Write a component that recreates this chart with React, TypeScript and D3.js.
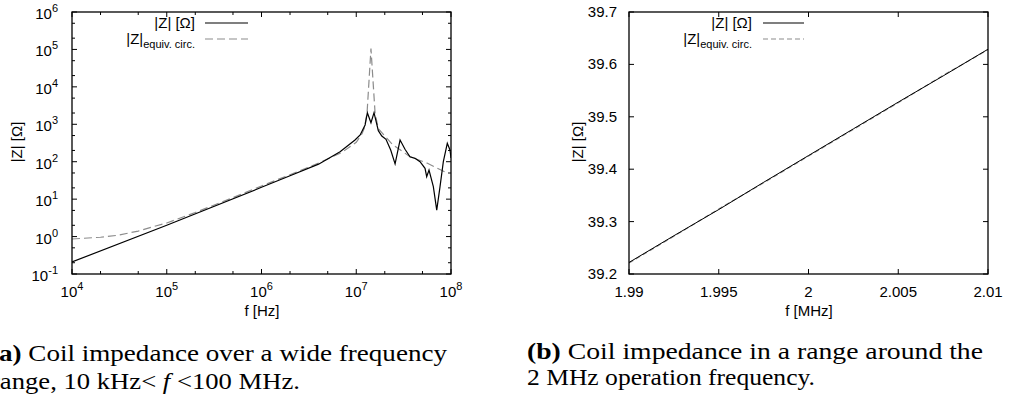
import React from "react";
import * as d3 from "d3";

// ---- Data (a): wide frequency range ----
const solidF = [1e4, 1e5, 1e6, 2e6, 4e6, 6.75e6, 9.7e6, 1.1e7, 1.24e7, 1.31e7, 1.43e7, 1.54e7, 1.71e7, 1.86e7, 2.06e7, 2.31e7, 2.57e7, 2.9e7, 3.27e7, 3.69e7, 4.17e7, 4.71e7, 5.32e7, 5.54e7, 5.86e7, 6.51e7, 7.07e7, 7.66e7, 8.3e7, 9.14e7, 9.76e7, 1e8];
const solidZ = [0.21, 2.0, 20.7, 42, 86, 185, 380, 517, 958, 2040, 1100, 2040, 675, 486, 397, 206, 87, 380, 215, 136, 123, 100, 66.7, 39.8, 60, 21.5, 5.1, 21.5, 100, 310, 206, 126];
const dashF = [1e4, 2e4, 3e4, 5e4, 7e4, 1e5, 2e5, 5e5, 1e6, 2e6, 4e6, 7e6, 1e7, 1.15e7, 1.22e7, 1.3e7, 1.43e7, 1.58e7, 1.71e7, 2.44e7, 3.7e7, 5.58e7, 8.65e7, 1e8];
const dashZ = [0.86, 0.96, 1.08, 1.4, 1.8, 2.3, 4.4, 11, 22.5, 45, 92, 175, 330, 560, 800, 2000, 105000, 2000, 760, 280, 136, 92, 53, 50];
const leftXTicks = [4, 5, 6, 7, 8];
const leftYTicks = [-1, 0, 1, 2, 3, 4, 5, 6];

// ---- Data (b): around 2 MHz ----
const rightF = [1.99, 1.9925, 1.995, 1.9975, 2.0, 2.0025, 2.005, 2.0075, 2.01];
const rightSolid = [39.222, 39.273, 39.323, 39.375, 39.426, 39.477, 39.528, 39.578, 39.629];
const rightDash = [39.221, 39.272, 39.324, 39.374, 39.425, 39.476, 39.527, 39.579, 39.628];
const rightXTicks = ["1.99", "1.995", "2", "2.005", "2.01"];
const rightYTicks = ["39.2", "39.3", "39.4", "39.5", "39.6", "39.7"];

const SANS = "'Liberation Sans', Arial, Helvetica, sans-serif";
const SERIF = "'Liberation Serif', 'Times New Roman', Times, serif";
const GRAY = "#8c8c8c";
const FS = 15;
const SUP = 11;

export default function App() {
  // Panel (a)
  const aL = 72, aR = 451, aT = 12, aB = 274;
  const xa = d3.scaleLog().domain([1e4, 1e8]).range([aL, aR]);
  const ya = d3.scaleLog().domain([1e-1, 1e6]).range([aB, aT]);
  const lineA = d3.line<[number, number]>().x((d) => xa(d[0])).y((d) => ya(d[1]));
  const solidPath = lineA(solidF.map((f, i) => [f, solidZ[i]]))!;
  const dashPath = lineA(dashF.map((f, i) => [f, dashZ[i]]))!;

  const minorX: number[] = [];
  for (let e = 4; e < 8; e++) [2, 5].forEach((m) => minorX.push(m * Math.pow(10, e)));
  const minorY: number[] = [];
  for (let e = -1; e < 6; e++) [2, 5].forEach((m) => minorY.push(m * Math.pow(10, e)));

  // Panel (b)
  const bL = 629, bR = 988, bT = 12, bB = 274;
  const xb = d3.scaleLinear().domain([1.99, 2.01]).range([bL, bR]);
  const yb = d3.scaleLinear().domain([39.2, 39.7]).range([bB, bT]);
  const lineB = d3.line<[number, number]>().x((d) => xb(d[0])).y((d) => yb(d[1]));
  const rSolidPath = lineB(rightF.map((f, i) => [f, rightSolid[i]]))!;
  const rDashPath = lineB(rightF.map((f, i) => [f, rightDash[i]]))!;

  const MJ = 5, MN = 3;

  return (
    <svg
      width={1009}
      height={403}
      style={{ position: "absolute", left: 0, top: 0, background: "#fff" }}
      fontFamily={SANS}
    >
      <defs>
        <clipPath id="clipA">
          <rect x={aL} y={aT} width={aR - aL} height={aB - aT} />
        </clipPath>
        <clipPath id="clipB">
          <rect x={bL} y={bT} width={bR - bL} height={bB - bT} />
        </clipPath>
      </defs>

      {/* ===== Panel (a) ===== */}
      <g>
        {leftXTicks.map((e) => {
          const x = xa(Math.pow(10, e));
          return (
            <g key={"xa" + e}>
              <line x1={x} x2={x} y1={aB} y2={aB - MJ} stroke="#000" />
              <line x1={x} x2={x} y1={aT} y2={aT + MJ} stroke="#000" />
              <text x={x} y={297} textAnchor="middle" fontSize={FS}>
                10<tspan dy={-7} fontSize={SUP}>{e}</tspan>
              </text>
            </g>
          );
        })}
        {minorX.map((v) => {
          const x = xa(v);
          return (
            <g key={"mxa" + v}>
              <line x1={x} x2={x} y1={aB} y2={aB - MN} stroke="#000" />
              <line x1={x} x2={x} y1={aT} y2={aT + MN} stroke="#000" />
            </g>
          );
        })}
        {leftYTicks.map((e) => {
          const y = ya(Math.pow(10, e));
          return (
            <g key={"ya" + e}>
              <line x1={aL} x2={aL + MJ} y1={y} y2={y} stroke="#000" />
              <line x1={aR} x2={aR - MJ} y1={y} y2={y} stroke="#000" />
              <text x={58} y={y + 7} textAnchor="end" fontSize={FS}>
                10<tspan dy={-7} fontSize={SUP}>{e}</tspan>
              </text>
            </g>
          );
        })}
        {minorY.map((v) => {
          const y = ya(v);
          return (
            <g key={"mya" + v}>
              <line x1={aL} x2={aL + MN} y1={y} y2={y} stroke="#000" />
              <line x1={aR} x2={aR - MN} y1={y} y2={y} stroke="#000" />
            </g>
          );
        })}

        <g clipPath="url(#clipA)">
          <path d={dashPath} fill="none" stroke={GRAY} strokeWidth={1.2} strokeDasharray="8,4" />
          <path d={solidPath} fill="none" stroke="#000" strokeWidth={1.2} />
        </g>

        <rect x={aL} y={aT} width={aR - aL} height={aB - aT} fill="none" stroke="#000" strokeWidth={1.3} />

        {/* legend */}
        <text x={195} y={28} textAnchor="end" fontSize={15}>|Z| [Ω]</text>
        <line x1={205} x2={248} y1={23} y2={23} stroke="#000" strokeWidth={1.2} />
        <text x={195} y={44} textAnchor="end" fontSize={15}>
          |Z|<tspan dy={4} fontSize={11}>equiv. circ.</tspan>
        </text>
        <line x1={205} x2={248} y1={39} y2={39} stroke={GRAY} strokeWidth={1.2} strokeDasharray="8,4" />

        {/* axis labels */}
        <text x={262} y={316} textAnchor="middle" fontSize={FS}>f [Hz]</text>
        <text transform="translate(22,142) rotate(-90)" textAnchor="middle" fontSize={FS}>|Z| [Ω]</text>
      </g>

      {/* ===== Panel (b) ===== */}
      <g>
        {rightXTicks.map((t) => {
          const x = xb(+t);
          return (
            <g key={"xb" + t}>
              <line x1={x} x2={x} y1={bB} y2={bB - MJ} stroke="#000" />
              <line x1={x} x2={x} y1={bT} y2={bT + MJ} stroke="#000" />
              <text x={x} y={297} textAnchor="middle" fontSize={FS}>{t}</text>
            </g>
          );
        })}
        {rightYTicks.map((t) => {
          const y = yb(+t);
          return (
            <g key={"yb" + t}>
              <line x1={bL} x2={bL + MJ} y1={y} y2={y} stroke="#000" />
              <line x1={bR} x2={bR - MJ} y1={y} y2={y} stroke="#000" />
              <text x={617} y={y + 5} textAnchor="end" fontSize={FS}>{t}</text>
            </g>
          );
        })}

        <g clipPath="url(#clipB)">
          <path d={rDashPath} fill="none" stroke={GRAY} strokeWidth={1.2} strokeDasharray="5,3" />
          <path d={rSolidPath} fill="none" stroke="#000" strokeWidth={1} />
        </g>

        <rect x={bL} y={bT} width={bR - bL} height={bB - bT} fill="none" stroke="#000" strokeWidth={1.3} />

        <text x={752} y={28} textAnchor="end" fontSize={15}>|Z| [Ω]</text>
        <line x1={763} x2={804} y1={23} y2={23} stroke="#000" strokeWidth={1.2} />
        <text x={752} y={44} textAnchor="end" fontSize={15}>
          |Z|<tspan dy={4} fontSize={11}>equiv. circ.</tspan>
        </text>
        <line x1={763} x2={804} y1={39} y2={39} stroke={GRAY} strokeWidth={1.2} strokeDasharray="5,3" />

        <text x={809} y={316} textAnchor="middle" fontSize={FS}>f [MHz]</text>
        <text transform="translate(583,142) rotate(-90)" textAnchor="middle" fontSize={FS}>|Z| [Ω]</text>
      </g>

      {/* ===== Captions ===== */}
      <g style={{ fontFamily: SERIF, fontSize: "23px" }}>
        <text x={-10} y={361} textLength={457} lengthAdjust="spacingAndGlyphs">
          <tspan fontWeight="bold">(a)</tspan> Coil impedance over a wide frequency
        </text>
        <text x={-9} y={389} textLength={309} lengthAdjust="spacingAndGlyphs">
          range, 10 kHz&lt; <tspan fontStyle="italic">f</tspan> &lt;100 MHz.
        </text>
        <text x={527} y={359} textLength={456} lengthAdjust="spacingAndGlyphs">
          <tspan fontWeight="bold">(b)</tspan> Coil impedance in a range around the
        </text>
        <text x={527} y={385} textLength={288} lengthAdjust="spacingAndGlyphs">
          2 MHz operation frequency.
        </text>
      </g>
    </svg>
  );
}
